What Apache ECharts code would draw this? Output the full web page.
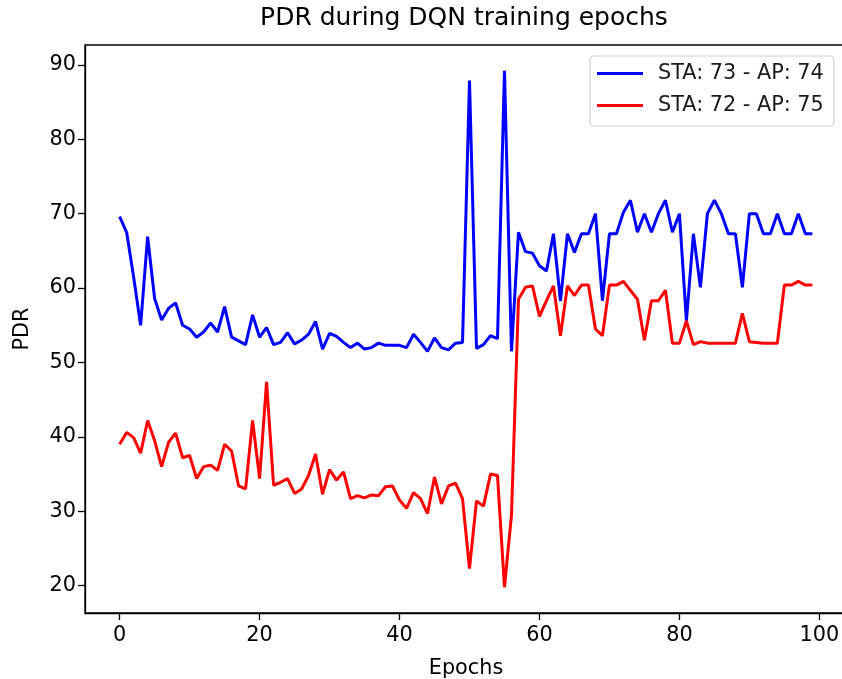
<!DOCTYPE html>
<html>
<head>
<meta charset="utf-8">
<script src="https://cdn.jsdelivr.net/npm/echarts@6/dist/echarts.min.js"></script>
<style>
html,body{margin:0;padding:0;background:#fff;}
#chart{width:842px;height:679px;}
</style>
</head>
<body>
<div id="chart"></div>
<script>
const titleText = 'PDR during DQN training epochs';
const xName = 'Epochs';
const yName = 'PDR';
const seriesNames = ['STA: 73 - AP: 74', 'STA: 72 - AP: 75'];
const epochs = Array.from({length: 100}, (_, i) => i);
const xTicks = [0, 20, 40, 60, 80, 100];
const yTicks = [20, 30, 40, 50, 60, 70, 80, 90];

const sta73 = [
  69.6, 67.5, 61.5, 55.0, 66.9, 58.6, 55.7, 57.3, 58.0, 55.0,
  54.5, 53.4, 54.1, 55.3, 54.1, 57.5, 53.4, 52.9, 52.4, 56.4,
  53.4, 54.7, 52.4, 52.7, 54.0, 52.5, 53.0, 53.8, 55.5, 51.8,
  53.9, 53.5, 52.7, 52.0, 52.6, 51.8, 52.0, 52.6, 52.3, 52.3,
  52.3, 52.0, 53.8, 52.7, 51.5, 53.3, 52.0, 51.7, 52.6, 52.7,
  87.9, 51.9, 52.4, 53.6, 53.2, 89.2, 51.5, 67.5, 64.9, 64.7,
  63.0, 62.3, 67.3, 58.3, 67.3, 64.8, 67.3, 67.3, 70.0, 58.3,
  67.3, 67.3, 70.2, 71.8, 67.5, 70.0, 67.5, 70.0, 71.8, 67.5,
  70.0, 55.6, 67.3, 60.1, 70.0, 71.8, 70.0, 67.3, 67.3, 60.1,
  70.0, 70.0, 67.3, 67.3, 70.0, 67.3, 67.3, 70.0, 67.3, 67.3
];
const sta72 = [
  39.0, 40.6, 39.9, 37.8, 42.2, 39.5, 36.0, 39.3, 40.5, 37.2,
  37.5, 34.4, 36.0, 36.2, 35.5, 39.0, 38.1, 33.4, 33.0, 42.2,
  34.4, 47.4, 33.5, 33.9, 34.4, 32.4, 33.0, 34.8, 37.7, 32.3,
  35.6, 34.2, 35.3, 31.7, 32.1, 31.8, 32.2, 32.1, 33.3, 33.4,
  31.5, 30.4, 32.5, 31.7, 29.7, 34.6, 31.0, 33.4, 33.8, 31.7,
  22.3, 31.4, 30.7, 35.0, 34.8, 19.8, 29.5, 58.5, 60.1, 60.3,
  56.2, 58.3, 60.3, 53.6, 60.3, 59.0, 60.4, 60.4, 54.5, 53.6,
  60.4, 60.4, 60.9, 59.7, 58.5, 53.0, 58.3, 58.3, 59.7, 52.6,
  52.6, 55.6, 52.4, 52.8, 52.6, 52.6, 52.6, 52.6, 52.6, 56.6,
  52.8, 52.7, 52.6, 52.6, 52.6, 60.4, 60.4, 60.9, 60.4, 60.4
];

const allY = sta73.concat(sta72);
const yLo = Math.min(...allY), yHi = Math.max(...allY);
const yPad = (yHi - yLo) * 0.05;
const xLo = epochs[0], xHi = epochs[epochs.length - 1];
const xPad = (xHi - xLo) * 0.05;

const FONT = 'DejaVu Sans';
const FS = 20.8;

const chart = echarts.init(document.getElementById('chart'), null, {renderer: 'canvas'});
chart.setOption({
  animation: false,
  backgroundColor: '#ffffff',
  textStyle: {fontFamily: FONT},
  title: {
    text: titleText,
    left: 464,
    textAlign: 'center',
    top: 6,
    padding: 0,
    textStyle: {fontFamily: FONT, fontSize: 25, fontWeight: 'normal', color: '#000'}
  },
  grid: {
    left: 85, right: -5, top: 45, bottom: 66,
    outerBoundsMode: 'none',
    containLabel: false,
    show: true, borderColor: '#000', borderWidth: 1.3, backgroundColor: 'transparent'
  },
  legend: {
    orient: 'vertical',
    left: 590,
    top: 56,
    padding: [7, 10, 10, 7],
    itemGap: 11,
    itemWidth: 46,
    itemHeight: 3,
    icon: 'rect',
    backgroundColor: '#fff',
    borderColor: '#d0d0d0',
    borderWidth: 1.2,
    borderRadius: 4,
    textStyle: {fontFamily: FONT, fontSize: FS, color: '#1a1a1a', lineHeight: 21, padding: [0, 0, 0, 10]},
    data: seriesNames
  },
  xAxis: {
    type: 'value',
    min: xLo - xPad,
    max: xHi + xPad,
    name: xName,
    nameLocation: 'middle',
    nameGap: 45,
    nameTextStyle: {fontFamily: FONT, fontSize: FS, color: '#000'},
    splitLine: {show: false},
    axisLine: {show: true, onZero: false, lineStyle: {color: '#000', width: 1.3}},
    axisTick: {show: true, length: 7, lineStyle: {color: '#000', width: 1.3}, customValues: xTicks},
    axisLabel: {fontFamily: FONT, fontSize: FS, color: '#000', margin: 12, customValues: xTicks}
  },
  yAxis: {
    type: 'value',
    min: yLo - yPad,
    max: yHi + yPad,
    name: yName,
    nameLocation: 'middle',
    nameGap: 52,
    nameTextStyle: {fontFamily: FONT, fontSize: FS, color: '#000'},
    splitLine: {show: false},
    axisLine: {show: true, onZero: false, lineStyle: {color: '#000', width: 1.3}},
    axisTick: {show: true, length: 7, lineStyle: {color: '#000', width: 1.3}, customValues: yTicks},
    axisLabel: {fontFamily: FONT, fontSize: FS, color: '#000', margin: 9, customValues: yTicks}
  },
  series: [
    {
      name: seriesNames[0], type: 'line', symbol: 'none', showSymbol: false,
      color: '#0000ff', lineStyle: {color: '#0000ff', width: 3},
      data: epochs.map((e, i) => [e, sta73[i]])
    },
    {
      name: seriesNames[1], type: 'line', symbol: 'none', showSymbol: false,
      color: '#ff0000', lineStyle: {color: '#ff0000', width: 3},
      data: epochs.map((e, i) => [e, sta72[i]])
    }
  ]
});
</script>
</body>
</html>
